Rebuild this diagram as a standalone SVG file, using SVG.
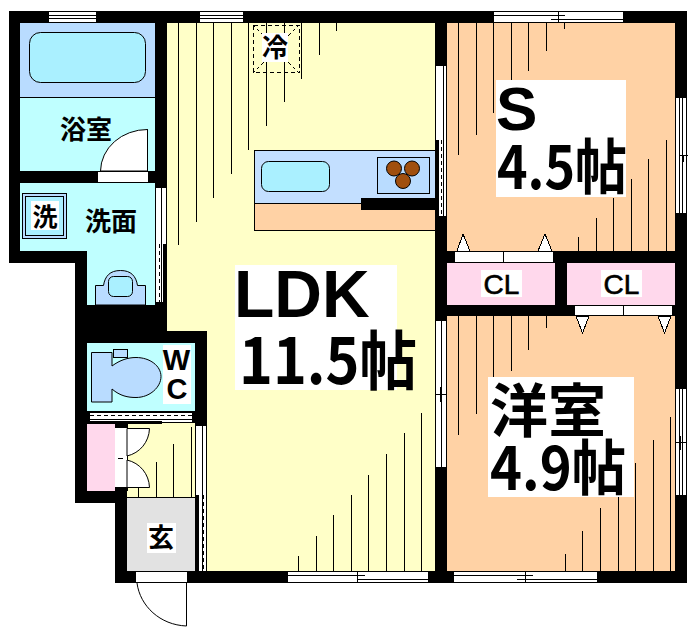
<svg xmlns="http://www.w3.org/2000/svg" width="699" height="644" viewBox="0 0 699 644">
<style>
.w{fill:#000}
.o{stroke:#000;stroke-width:1;fill:none}
.h{stroke:#000;stroke-width:1;fill:none;shape-rendering:crispEdges}
.d{stroke:#000;stroke-width:1;fill:none;stroke-dasharray:4 3;shape-rendering:crispEdges}
.wn{fill:#fff;stroke:#000;stroke-width:1;shape-rendering:crispEdges}
.wh{fill:#fff}
.b{fill:#b9dcff;stroke:#000;stroke-width:1}
.c{fill:#aaf0ff;stroke:#000;stroke-width:1}
.t{font-family:"Noto Sans CJK JP","Liberation Sans",sans-serif;font-weight:700;fill:#000;text-anchor:middle}
.l{font-family:"Liberation Sans","Noto Sans CJK JP",sans-serif;font-weight:700;fill:#000}
.n{font-family:"Liberation Sans","Noto Sans CJK JP",sans-serif;fill:#000;stroke:#000;stroke-width:.6;text-anchor:middle}
</style>
<rect width="699" height="644" fill="#fff"/>
<g id="floors">
<path fill="#ffffc8" d="M167 23H435V571H207V331H167Z"/>
<rect x="127" y="423" width="80" height="75" fill="#ffffc8"/>
<rect x="447" y="23" width="228" height="228" fill="#ffd2a5"/>
<rect x="447" y="316" width="228" height="255" fill="#ffd2a5"/>
<rect x="20" y="97" width="135" height="74" fill="#bfffff"/>
<path fill="#bfffff" d="M20 183H155V305H87V251H20Z"/>
<rect x="87" y="343" width="108" height="68" fill="#bfffff"/>
<rect x="127" y="498" width="68" height="73" fill="#e2e2e2"/>
<rect x="87" y="423" width="28" height="68" fill="#ffd8ec"/>
<rect x="447" y="263" width="108" height="42" fill="#ffd8ec"/>
<rect x="567" y="263" width="108" height="42" fill="#ffd8ec"/>
</g>
<g id="hatching" class="h">
<path d="M178.500 23V245M196.500 23V222M213.500 23V198M231.500 23V174M248.500 23V150M266.500 23V126M284.500 23V102M301.500 23V79M319.500 23V55M336.500 23V31"/>
<path d="M298.500 571V556M316.500 571V536M333.500 571V515M351.500 571V495M368.500 571V475M386.500 571V454M404.500 571V433M421.500 571V413"/>
<path d="M138.500 498V488M156.500 498V462M173.500 498V444M191.500 498V427"/>
<path d="M458.500 23V155M476.500 23V135M493.500 23V113M511.500 23V80M528.500 23V71M546.500 23V51M564.500 23V29"/>
<path d="M578.500 251V237M596.500 251V218M613.500 251V198M631.500 251V179M648.500 251V159M666.500 251V140"/>
<path d="M458.500 316V435M476.500 316V414M493.500 316V377M511.500 316V371M528.500 316V350M546.500 316V328"/>
<path d="M565.500 571V554M582.500 571V531M600.500 571V508M618.500 571V497M635.500 571V463M653.500 571V440M670.500 571V417"/>
</g>
<g id="walls" class="w">
<path d="M9 11H687V583H115V503H75V263H9ZM20 23V171H155V23ZM20 183V251H87V305H155V183ZM167 23V331H207V571H435V23ZM447 23V251H675V23ZM447 263V305H555V263ZM567 263V305H675V263ZM447 316V571H675V316ZM87 343V411H195V343ZM87 423V491H115V423ZM127 423V571H195V423Z" fill-rule="evenodd"/>
</g>
<g id="openings">
<g id="top-windows">
<rect class="wn" x="48" y="11.500" width="48" height="11"/><path class="h" d="M48 15.500H96M48 18.500H96"/>
<rect class="wn" x="199" y="11.500" width="44" height="11"/><path class="h" d="M199 15.500H243M199 18.500H243"/>
<rect class="wn" x="493" y="11.500" width="130" height="11"/><path class="h" d="M493 15.500H565M551 19.500H623M558.500 11V23"/>
</g>
<g id="right-windows">
<rect class="wn" x="675.500" y="97" width="11" height="116"/><path class="h" d="M679.500 97V213M682.500 97V213M679 155.500H688M679.500 149V155M683.500 155V162"/>
<rect class="wn" x="675.500" y="388" width="11" height="107"/><path class="h" d="M679.500 388V495M682.500 388V495M676 442.500H687M680.500 436V450"/>
</g>
<g id="bottom-windows">
<rect class="wn" x="287" y="571.500" width="141" height="11"/><path class="h" d="M287 575.500H365M358 579.500H428M357.500 571V583"/>
<rect class="wn" x="453" y="571.500" width="144" height="11"/><path class="h" d="M453 575.500H533M517 579.500H597M525.500 571V583"/>
</g>
<g id="inner-windows">
<rect class="wn" x="435.500" y="65" width="11" height="151"/><path class="h" d="M443.500 65V216"/><rect class="w" x="435" y="140" width="4" height="76"/><path class="d" d="M441.500 140V216"/>
<rect class="wn" x="435.500" y="320" width="11" height="147"/><path class="h" d="M441.500 320V467M436 394.500H446M440.500 387V402"/>
<rect class="wn" x="155.500" y="187" width="11" height="115"/><path class="h" d="M161.500 187V302"/><rect class="w" x="163" y="244" width="4" height="58"/><path class="d" d="M159.500 244V302"/>
<rect class="wn" x="195.500" y="425" width="11" height="146"/><path class="h" d="M202.500 425V571"/><rect class="w" x="195" y="495" width="4" height="76"/><path class="d" d="M203.500 495V571"/>
</g>
</g>
<g id="bath">
<rect x="20" y="23" width="135" height="74" fill="#b9dcff"/><path class="h" d="M20 97.500H155"/>
<rect class="c" x="29.500" y="32.500" width="116" height="50" rx="11"/>
<rect class="wh" x="98" y="171" width="50" height="11"/><path class="h" d="M98 171.500H148M98 182.500H148M147.500 129V171"/>
<path d="M147.500 129.500A47 42 0 0 0 100.500 171H147.500Z" fill="#fff" stroke="#000"/>
<text class="t" x="86" y="139" font-size="26">浴室</text>
</g>
<g id="washroom">
<rect x="22.500" y="193.500" width="44" height="45" fill="#b9dcff" stroke="#000"/>
<rect x="25.500" y="196.500" width="38" height="39" class="c"/>
<rect x="31" y="201" width="28" height="29" class="wh"/>
<text class="t" x="45" y="226" font-size="25">洗</text>
<text class="t" x="111" y="231" font-size="26">洗面</text>
<path class="b" d="M95.500 305V285.500H103.500C105 276 110 270.500 120.500 270.500C131 270.500 136 276 137.500 285.500H145.500V305Z"/>
<rect class="c" x="108.500" y="276.500" width="24" height="20" rx="5"/>
</g>
<g id="wc">
<rect class="wh" x="90" y="413" width="102" height="9"/>
<path class="d" d="M90 415.500H192"/><path class="h" d="M90 419.500H192"/>
<rect class="w" x="87" y="421" width="75" height="3"/>
<rect class="b" x="113.500" y="349.500" width="14" height="8"/>
<path class="b" d="M112 402V389C120 396 128 397.500 136 397.500C150 397.500 161 387 161 376.500C161 366 150 357.500 136 357.500C128 357.500 120 360 112 366V352.500H91.500V402Z"/>
<rect class="wh" x="163" y="345" width="28" height="59"/>
<text class="l" x="176.500" y="370" font-size="29" text-anchor="middle">W</text>
<text class="l" x="177" y="399" font-size="29" text-anchor="middle">C</text>
</g>
<g id="entrance">
<rect class="wh" x="115" y="428" width="12" height="59"/>
<path class="h" d="M127.500 423V491M118 458.500H123"/>
<path d="M127 428.500H149.500C149 442 140 453 127 456Z" fill="#fff" stroke="#000"/>
<path d="M127 487.500H149.500C149 474 140 463 127 460Z" fill="#fff" stroke="#000"/>
<path class="h" d="M127 497.500H195"/>
<rect class="wh" x="136" y="572" width="51" height="10"/>
<path class="o" d="M137 583C140 606 160 625 186.500 626V583"/>
<rect class="wh" x="147" y="523" width="29" height="30"/>
<text class="t" x="161" y="547" font-size="26">玄</text>
</g>
<g id="kitchen">
<rect x="254.500" y="150.500" width="181" height="53" fill="#c3dfff" stroke="#000"/>
<rect x="254.500" y="203.500" width="181" height="27" fill="#ffd2a5" stroke="#000"/>
<rect class="c" x="261.500" y="161.500" width="68" height="30" rx="7"/>
<rect x="377.500" y="157.500" width="52" height="36" fill="#b9dcff" stroke="#000"/>
<circle cx="394" cy="168.500" r="7.500" fill="#a04f0e" stroke="#000"/>
<circle cx="412" cy="168.500" r="7.500" fill="#a04f0e" stroke="#000"/>
<circle cx="403" cy="181" r="7.500" fill="#a04f0e" stroke="#000"/>
<rect class="w" x="361" y="198" width="74" height="12"/>
<rect class="w" x="435" y="140" width="4" height="70"/>
</g>
<g id="fridge">
<rect x="253.500" y="25.500" width="46" height="47" fill="#ffffc8" class="d"/>
<path class="h" d="M253 25L264 36M299 25L288 36M253 73L264 62M299 73L288 62" stroke-dasharray="3 3"/>
<rect class="wh" x="262" y="33" width="26" height="29"/>
<text class="t" x="275" y="57" font-size="26">冷</text>
</g>
<g id="closets">
<rect class="wn" x="454" y="251.500" width="99" height="11"/><path class="h" d="M503.500 251V262"/>
<path class="wn" d="M463 234L457 251H470Z"/><path class="wn" d="M545 234L538 251H552Z"/>
<rect class="wn" x="574" y="305.500" width="98" height="10"/><path class="h" d="M623.500 305V316"/>
<path class="wn" d="M582.500 333L576 316H589Z"/><path class="wn" d="M664.500 333L658 316H671Z"/>
<rect class="wh" x="481" y="270" width="41" height="27"/><rect class="wh" x="601" y="270" width="41" height="27"/>
<text class="n" x="501.500" y="294" font-size="28">CL</text>
<text class="n" x="621.500" y="294" font-size="28">CL</text>
</g>
<g id="room-s">
<rect class="wh" x="496" y="80" width="130" height="117"/>
<text class="l" x="496" y="130" font-size="62">S</text>
<text class="t" x="562" y="189" font-size="60" textLength="130" lengthAdjust="spacingAndGlyphs">4.5帖</text>
</g>
<g id="room-ldk">
<rect class="wh" x="235" y="265" width="162" height="125"/>
<text class="l" x="234" y="317" font-size="66">LDK</text>
<text class="t" x="328" y="384" font-size="64" textLength="178" lengthAdjust="spacingAndGlyphs">11.5帖</text>
</g>
<g id="room-western">
<rect class="wh" x="488" y="377" width="146" height="120"/>
<text class="t" x="548" y="432" font-size="58">洋室</text>
<text class="t" x="558" y="490" font-size="60" textLength="136" lengthAdjust="spacingAndGlyphs">4.9帖</text>
</g>
</svg>
